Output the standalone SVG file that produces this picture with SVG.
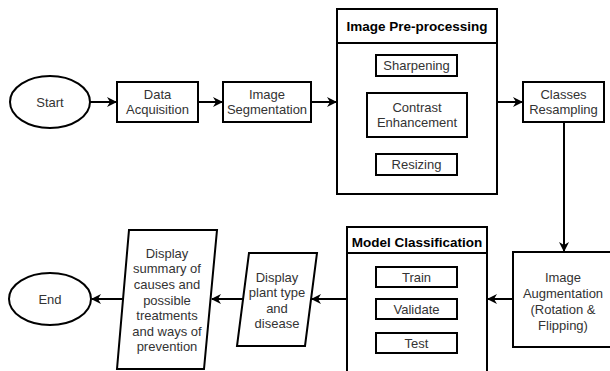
<svg xmlns="http://www.w3.org/2000/svg" width="610" height="371" viewBox="0 0 610 371">
<defs>
<style>
.s{fill:#fff;stroke:#000;stroke-width:2}
.t{font-family:"Liberation Sans",Arial,sans-serif;font-size:13px;fill:#333;text-anchor:middle}
.b{font-family:"Liberation Sans",Arial,sans-serif;font-size:13.5px;font-weight:bold;fill:#000;text-anchor:middle}
.c{fill:none;stroke:#000;stroke-width:2}
</style>
<marker id="ah" viewBox="0 0 10 10" refX="9" refY="5" markerWidth="5" markerHeight="5" orient="auto" markerUnits="strokeWidth">
<path d="M0,0 L10,5 L0,10 L3,5 Z" fill="#000"/>
</marker>
</defs>
<rect width="610" height="371" fill="#fff"/>
<g id="connectors">
<line class="c" x1="90" y1="102" x2="116" y2="102" marker-end="url(#ah)"/>
<line class="c" x1="198" y1="102" x2="222" y2="102" marker-end="url(#ah)"/>
<line class="c" x1="311" y1="102" x2="336" y2="102" marker-end="url(#ah)"/>
<line class="c" x1="497" y1="102" x2="522" y2="102" marker-end="url(#ah)"/>
<line class="c" x1="564" y1="122" x2="564" y2="251" marker-end="url(#ah)"/>
<line class="c" x1="513" y1="299" x2="488" y2="299" marker-end="url(#ah)"/>
<line class="c" x1="347" y1="299" x2="312" y2="299" marker-end="url(#ah)"/>
<line class="c" x1="243" y1="299" x2="212" y2="299" marker-end="url(#ah)"/>
<line class="c" x1="123" y1="299" x2="92" y2="299" marker-end="url(#ah)"/>
</g>
<g id="start">
<ellipse class="s" cx="50" cy="102" rx="40" ry="26"/>
<text class="t" x="50" y="106.5">Start</text>
</g>
<g id="data-acquisition">
<rect class="s" x="117" y="82" width="81" height="40"/>
<text class="t" x="157.5" y="99">Data</text>
<text class="t" x="157.5" y="114">Acquisition</text>
</g>
<g id="image-segmentation">
<rect class="s" x="223" y="82" width="88" height="40"/>
<text class="t" x="267" y="99">Image</text>
<text class="t" x="267" y="114">Segmentation</text>
</g>
<g id="image-preprocessing">
<rect class="s" x="337" y="9" width="160" height="185"/>
<line class="c" x1="337" y1="43" x2="497" y2="43"/>
<text class="b" x="417" y="31">Image Pre-processing</text>
<rect class="s" x="376" y="55" width="81" height="21"/>
<text class="t" x="416.5" y="70">Sharpening</text>
<rect class="s" x="367" y="93" width="100" height="44"/>
<text class="t" x="417" y="112">Contrast</text>
<text class="t" x="417" y="127">Enhancement</text>
<rect class="s" x="376" y="154" width="81" height="21"/>
<text class="t" x="416.5" y="169">Resizing</text>
</g>
<g id="classes-resampling">
<rect class="s" x="523" y="82" width="81" height="40"/>
<text class="t" x="563.5" y="99">Classes</text>
<text class="t" x="563.5" y="114">Resampling</text>
</g>
<g id="image-augmentation">
<rect class="s" x="513" y="252" width="102" height="95"/>
<text class="t" x="563" y="281.5">Image</text>
<text class="t" x="563" y="297.5">Augmentation</text>
<text class="t" x="563" y="313.5">(Rotation &amp;</text>
<text class="t" x="563" y="329.5">Flipping)</text>
</g>
<g id="model-classification">
<rect class="s" x="347" y="227" width="140" height="150"/>
<line class="c" x1="347" y1="253" x2="487" y2="253"/>
<text class="b" x="417" y="246.5">Model Classification</text>
<rect class="s" x="376" y="267" width="81" height="20"/>
<text class="t" x="416.5" y="281.5">Train</text>
<rect class="s" x="376" y="299" width="81" height="20"/>
<text class="t" x="416.5" y="313.5">Validate</text>
<rect class="s" x="376" y="333" width="81" height="20"/>
<text class="t" x="416.5" y="347.5">Test</text>
</g>
<g id="display-plant">
<polygon class="s" points="249,253 317,253 305,346 237,346"/>
<text class="t" x="277" y="281.5">Display</text>
<text class="t" x="277" y="297">plant type</text>
<text class="t" x="277" y="312.5">and</text>
<text class="t" x="277" y="328">disease</text>
</g>
<g id="display-summary">
<polygon class="s" points="129,230 217,230 204,369 117,369"/>
<text class="t" x="167" y="257.5">Display</text>
<text class="t" x="167" y="273">summary of</text>
<text class="t" x="167" y="288.5">causes and</text>
<text class="t" x="167" y="304.5">possible</text>
<text class="t" x="167" y="320">treatments</text>
<text class="t" x="167" y="335.5">and ways of</text>
<text class="t" x="167" y="351">prevention</text>
</g>
<g id="end">
<ellipse class="s" cx="50" cy="299" rx="41" ry="26"/>
<text class="t" x="50" y="303.5">End</text>
</g>
</svg>
